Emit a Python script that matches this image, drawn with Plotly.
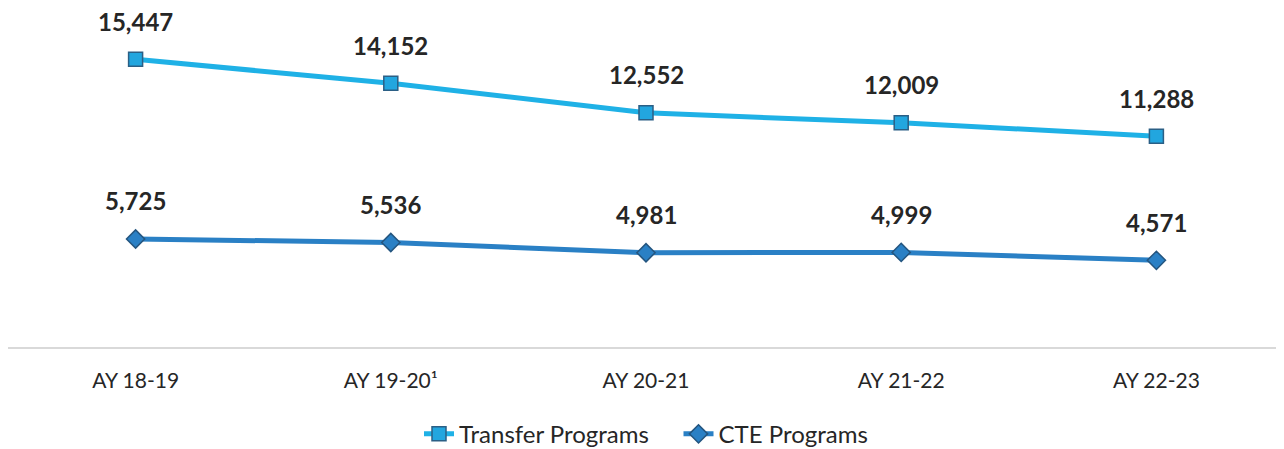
import plotly.graph_objects as go

categories = ["AY 18-19", "AY 19-20¹", "AY 20-21", "AY 21-22", "AY 22-23"]
transfer = [15447, 14152, 12552, 12009, 11288]
cte = [5725, 5536, 4981, 4999, 4571]
series_names = ["Transfer Programs", "CTE Programs"]

FONT = "Lato, 'Open Sans', sans-serif"

fig = go.Figure()
fig.add_trace(go.Scatter(
    x=categories, y=transfer, name=series_names[0] + "\u00a0" * 4, mode="lines+markers",
    line=dict(color="#1fb1e6", width=5),
    marker=dict(symbol="square", size=14, color="#22a6df",
                line=dict(color="#2b5f85", width=1.5)),
))
fig.add_trace(go.Scatter(
    x=categories, y=cte, name=series_names[1], mode="lines+markers",
    line=dict(color="#2a80c5", width=5),
    marker=dict(symbol="diamond", size=14, color="#2a80c5",
                line=dict(color="#24557f", width=1.5)),
))

for series in (transfer, cte):
    for c, v in zip(categories, series):
        fig.add_annotation(x=c, y=v, text=f"{v:,}", showarrow=False,
                           yshift=38, font=dict(family=FONT, size=24, color="#262626", weight="bold"))

fig.update_layout(
    width=1284, height=449,
    margin=dict(l=0, r=8, t=6, b=107),
    paper_bgcolor="white", plot_bgcolor="white",
    font=dict(family=FONT, color="#262626"),
    showlegend=True,
    legend=dict(orientation="h", x=0.5, xanchor="center", y=-0.262, yanchor="middle",
                font=dict(family=FONT, size=24, color="#262626"),
                tracegroupgap=0, traceorder="normal"),
    xaxis=dict(type="category", range=[-0.5, 4.5], showgrid=False, zeroline=False,
               showline=True, linecolor="#d9d9d9", linewidth=2,
               ticks="outside", ticklen=14, tickcolor="rgba(0,0,0,0)",
               tickfont=dict(family=FONT, size=21, color="#262626")),
    yaxis=dict(range=[-120, 17900], visible=False, showgrid=False, zeroline=False),
)

fig.write_html("out.html")
